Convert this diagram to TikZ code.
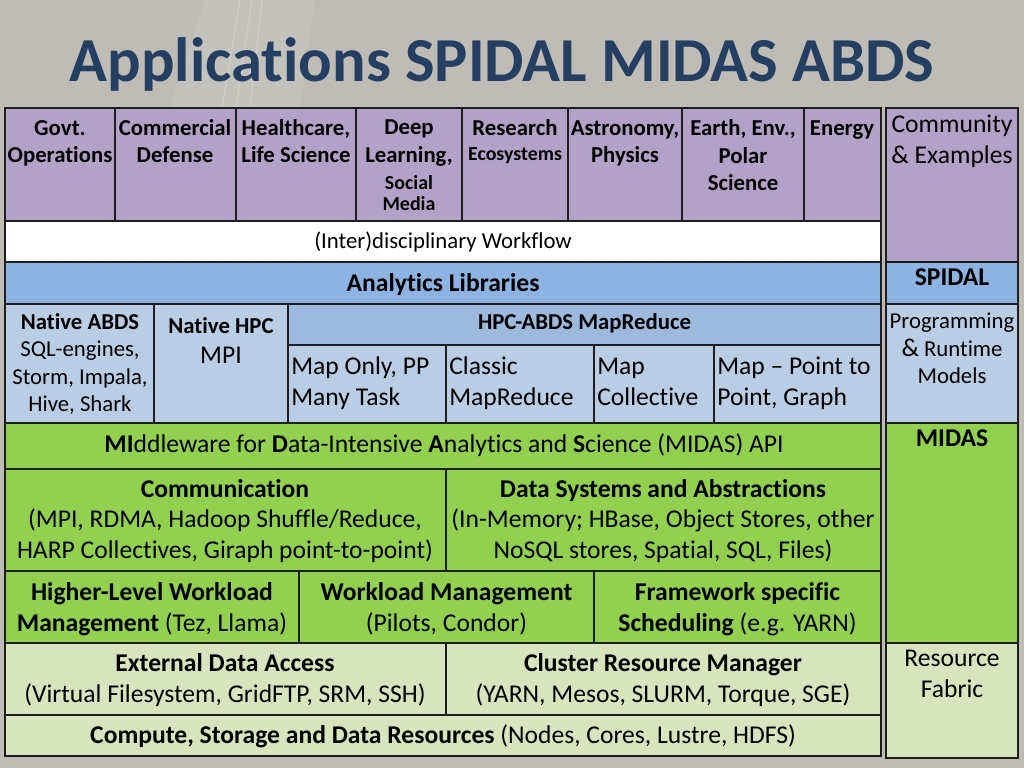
\documentclass[tikz,border=0pt]{standalone}
\usepackage{fontspec}
\setmainfont{Carlito}[Ligatures={TeX,NoCommon}]
\usetikzlibrary{positioning}
\definecolor{slidegray}{RGB}{190,188,181}
\definecolor{titleblue}{RGB}{36,63,98}
\definecolor{cellline}{RGB}{30,30,30}
\definecolor{apppurple}{RGB}{179,162,199}
\definecolor{libblue}{RGB}{141,179,226}
\definecolor{progblue}{RGB}{185,205,229}
\definecolor{hdrblue}{RGB}{157,185,221}
\definecolor{midgreen}{RGB}{146,208,80}
\definecolor{fabgreen}{RGB}{215,228,189}
\newcommand{\fsA}{\fontsize{16}{19.2}\selectfont}
\newcommand{\fsB}{\fontsize{18}{21.6}\selectfont}
\newcommand{\fsC}{\fontsize{14}{16.8}\selectfont}
\newcommand{\fsT}{\fontsize{44}{52.8}\selectfont}
\begin{document}
\begin{tikzpicture}[x=0.703125pt,y=-0.703125pt,
  cell/.style={draw=cellline,line width=1.4pt},
  lbl/.style={inner sep=0pt,align=center,anchor=base,font=\fsA},
  lblbig/.style={lbl,font=\fsB},
  lblleft/.style={inner sep=0pt,align=left,anchor=base west,font=\fsB}]
\useasboundingbox (0,0) rectangle (1024,768);
\fill[slidegray] (0,0) rectangle (1024,768);
\fill[white,opacity=0.10] (205,0)--(315,0)--(300,108)--(170,108)--cycle;
\draw[white,opacity=0.18,line width=1pt] (240,0)--(222,108);
\draw[white,opacity=0.18,line width=1pt] (252,0)--(236,108);
\draw[white,opacity=0.18,line width=1pt] (262,0)--(250,108);
\node[inner sep=0pt,anchor=base,font=\fsT\bfseries,text=titleblue] (title) at (502,82) {Applications SPIDAL MIDAS ABDS};

\draw[cell,fill=apppurple] (5,108) rectangle (115,221);
\draw[cell,fill=apppurple] (115,108) rectangle (236,221);
\draw[cell,fill=apppurple] (236,108) rectangle (356,221);
\draw[cell,fill=apppurple] (356,108) rectangle (462,221);
\draw[cell,fill=apppurple] (462,108) rectangle (568,221);
\draw[cell,fill=apppurple] (568,108) rectangle (682,221);
\draw[cell,fill=apppurple] (682,108) rectangle (804,221);
\draw[cell,fill=apppurple] (804,108) rectangle (881,221);
\draw[cell,fill=white] (5,221) rectangle (881,262);
\draw[cell,fill=libblue] (5,262) rectangle (881,304);
\draw[cell,fill=progblue] (5,304) rectangle (154,423);
\draw[cell,fill=progblue] (154,304) rectangle (288,423);
\draw[cell,fill=hdrblue] (288,304) rectangle (881,345);
\draw[cell,fill=progblue] (288,345) rectangle (446,423);
\draw[cell,fill=progblue] (446,345) rectangle (594,423);
\draw[cell,fill=progblue] (594,345) rectangle (714,423);
\draw[cell,fill=progblue] (714,345) rectangle (881,423);
\draw[cell,fill=midgreen] (5,423) rectangle (881,469);
\draw[cell,fill=midgreen] (5,469) rectangle (446,571);
\draw[cell,fill=midgreen] (446,469) rectangle (881,571);
\draw[cell,fill=midgreen] (5,571) rectangle (299,643);
\draw[cell,fill=midgreen] (299,571) rectangle (594,643);
\draw[cell,fill=midgreen] (594,571) rectangle (881,643);
\draw[cell,fill=fabgreen] (5,643) rectangle (446,715);
\draw[cell,fill=fabgreen] (446,643) rectangle (881,715);
\draw[cell,fill=fabgreen] (5,715) rectangle (881,756);

\draw[cell,fill=apppurple] (886,108) rectangle (1018,262);
\draw[cell,fill=libblue] (886,262) rectangle (1018,304);
\draw[cell,fill=progblue] (886,304) rectangle (1018,423);
\draw[cell,fill=midgreen] (886,423) rectangle (1018,643);
\draw[cell,fill=fabgreen] (886,643) rectangle (1018,758);

\node[lbl,font=\fsA\bfseries] (govt) at (60,163) {Govt.\\Operations};
\node[lbl,font=\fsA\bfseries] (commercial) at (175,163) {Commercial\\Defense};
\node[lbl,font=\fsA\bfseries] (health) at (296,163) {Healthcare,\\Life Science};
\node[lbl,font=\fsA\bfseries] (deep) at (409,211) {Deep\\Learning,\\{\fsC Social}\\[-4pt]{\fsC Media}};
\node[lbl,font=\fsA\bfseries] (research) at (515,160.5) {Research\\[-1.6pt]{\fsC Ecosystems}};
\node[lbl,font=\fsA\bfseries] (astro) at (625,163) {Astronomy,\\Physics};
\node[lbl,font=\fsA\bfseries] (earth) at (743,190.5) {Earth, Env.,\\Polar\\Science};
\node[lbl,font=\fsA\bfseries] (energy) at (842,135.5) {Energy};
\node[lbl] (workflow) at (443,248.5) {(Inter)disciplinary Workflow};
\node[lbl,font=\fsB\bfseries] (analytics) at (443,291) {Analytics Libraries};

\node[lbl] (nabds) at (80,411.5) {\textbf{Native ABDS}\\SQL-engines,\\Storm, Impala,\\Hive, Shark};
\node[lbl] (nhpc) at (221,363.5) {\textbf{Native HPC}\\[1.8pt]{\fsB MPI}};
\node[lbl,font=\fsA\bfseries] (hpcabds) at (584.5,330) {HPC-ABDS MapReduce};
\node[lblleft] (maponly) at (291,405) {Map Only, PP\\Many Task};
\node[lblleft] (classic) at (449,405) {Classic\\MapReduce};
\node[lblleft] (mapcoll) at (597,405) {Map\\Collective};
\node[lblleft] (p2p) at (717,405) {Map -- Point to\\Point, Graph};

\node[lblbig] (midapi) at (444,452) {\textbf{MI}ddleware for \textbf{D}ata-Intensive \textbf{A}nalytics and \textbf{S}cience (MIDAS) API};
\node[lblbig] (commun) at (225,558.5) {\textbf{Communication}\\(MPI, RDMA, Hadoop Shuffle/Reduce,\\HARP Collectives, Giraph point-to-point)};
\node[lblbig] (datasys) at (663,558.5) {\textbf{Data Systems and Abstractions}\\(In-Memory; HBase, Object Stores, other\\NoSQL stores, Spatial, SQL, Files)};
\node[lblbig] (hlwork) at (152,631) {\textbf{Higher-Level Workload}\\\textbf{Management} (Tez, Llama)};
\node[lblbig] (workmgmt) at (446.5,631) {\textbf{Workload Management}\\(Pilots, Condor)};
\node[lblbig] (fwsched) at (737.5,631) {\textbf{Framework specific}\\\textbf{Scheduling} (e.g. YARN)};
\node[lblbig] (extdata) at (225,702) {\textbf{External Data Access}\\(Virtual Filesystem, GridFTP, SRM, SSH)};
\node[lblbig] (cluster) at (663,702) {\textbf{Cluster Resource Manager}\\(YARN, Mesos, SLURM, Torque, SGE)};
\node[lblbig] (compute) at (443,743) {\textbf{Compute, Storage and Data Resources} (Nodes, Cores, Lustre, HDFS)};

\node[lblbig] (community) at (952,163.5) {Community\\\& Examples};
\node[lblbig,font=\fsB\bfseries] (spidal) at (952,285) {SPIDAL};
\node[lbl] (progmodel) at (952,383.5) {Programming\\{\fsB\&} Runtime\\Models};
\node[lblbig,font=\fsB\bfseries] (midas) at (952,446) {MIDAS};
\node[lblbig] (fabric) at (952,697) {Resource\\Fabric};
\end{tikzpicture}
\end{document}
